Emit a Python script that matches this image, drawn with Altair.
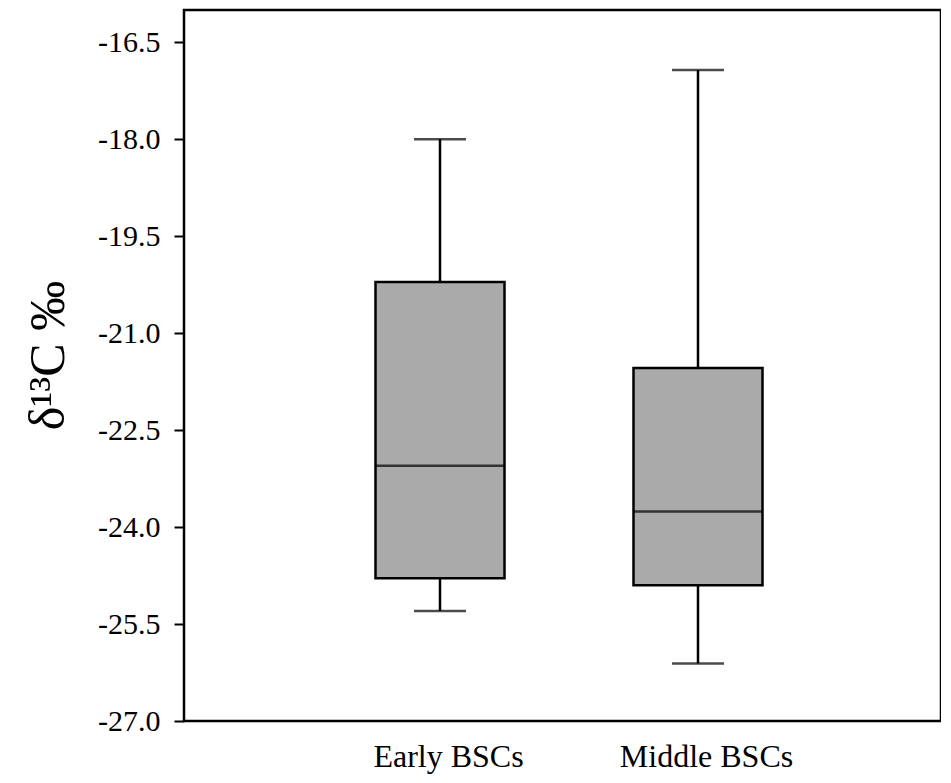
import altair as alt
import pandas as pd

groups = ["Early BSCs", "Middle BSCs"]
mins = [-25.30, -26.11]
q1s = [-24.79, -24.90]
medians = [-23.05, -23.76]
q3s = [-20.21, -21.54]
maxs = [-18.00, -16.93]
y_ticks = [-27.0, -25.5, -24.0, -22.5, -21.0, -19.5, -18.0, -16.5]

df = pd.DataFrame({"group": groups, "lo": mins, "q1": q1s, "med": medians, "q3": q3s, "hi": maxs})

FONT = "Liberation Serif"

x = alt.X("group:N", title=None,
          scale=alt.Scale(type="point", domain=groups, range=[256, 514], padding=0),
          axis=alt.Axis(ticks=False, domain=False, labelFontSize=32, labelFont=FONT,
                        labelColor="black", labelPadding=20, labelOffset=8, labelAngle=0))
yscale = alt.Scale(domain=[-27, -16], nice=False, zero=False)
yaxis = alt.Axis(values=y_ticks, domain=False, grid=False, tickSize=10, tickWidth=2,
                 tickColor="black", labelFontSize=30, labelFont=FONT, labelColor="black",
                 labelPadding=14,
                 labelExpr="(datum.value < 0 ? '-' : '') + format(abs(datum.value), '.1f')",
                 title="δ¹³C ‰", titleFont=FONT, titleFontSize=50, titleFontWeight="normal",
                 titleColor="black", titleAngle=270, titleX=-136, titleY=345,
                 titleAlign="center", titleBaseline="middle")

base = alt.Chart(df).encode(x=x)

whisker = base.mark_rule(color="black", strokeWidth=2.5).encode(
    y=alt.Y("lo:Q", scale=yscale, axis=yaxis), y2="hi:Q")
caps_lo = base.mark_tick(color="black", size=52, thickness=2.5).encode(y=alt.Y("lo:Q", scale=yscale))
caps_hi = base.mark_tick(color="black", size=52, thickness=2.5).encode(y=alt.Y("hi:Q", scale=yscale))
box = base.mark_bar(size=129, fill="#aaaaaa", stroke="black", strokeWidth=2.5).encode(
    y=alt.Y("q1:Q", scale=yscale), y2="q3:Q")
median = base.mark_tick(color="black", size=129, thickness=2.5).encode(y=alt.Y("med:Q", scale=yscale))

chart = alt.layer(whisker, caps_lo, caps_hi, box, median).properties(
    width=757, height=711,
    autosize=alt.AutoSizeParams(type="none"),
    padding={"left": 176, "top": 2, "right": 0, "bottom": 54},
).configure(background="white").configure_view(stroke="black", strokeWidth=2.5)

chart.save("out.html", embed_options={"renderer": "svg", "actions": False})
